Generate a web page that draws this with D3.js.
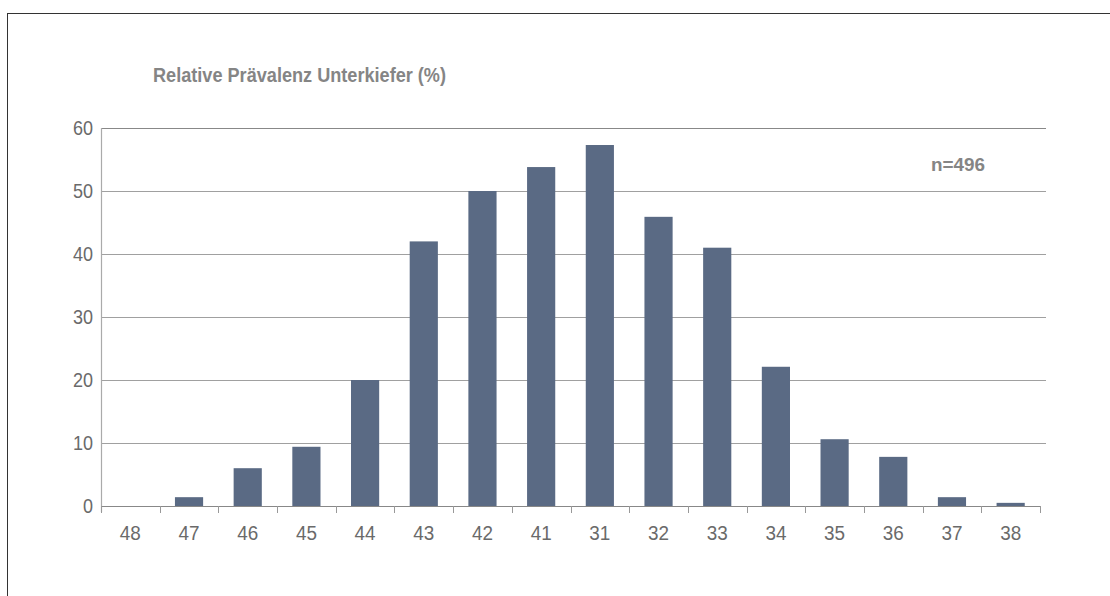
<!DOCTYPE html>
<html>
<head>
<meta charset="utf-8">
<script src="https://cdn.jsdelivr.net/npm/d3@7"></script>
<style>
  html, body { margin: 0; padding: 0; background: #fff; }
  svg { display: block; }
  text { font-family: "Liberation Sans Narrow", "Arial Narrow", "Liberation Sans", sans-serif; }
</style>
</head>
<body>
<svg id="chart" width="1110" height="596"></svg>
<script>
// Teeth (FDI notation), lower jaw, right to left
const teeth = ["48","47","46","45","44","43","42","41","31","32","33","34","35","36","37","38"];
// Relative prevalence in percent
const prevalence = [0, 1.4, 6.0, 9.4, 20, 42, 50, 53.8, 57.3, 45.9, 41, 22.1, 10.6, 7.8, 1.4, 0.5];
const yTicks = [0, 10, 20, 30, 40, 50, 60];
const title = "Relative Prävalenz Unterkiefer (%)";
const sampleLabel = "n=496";

const svg = d3.select("#chart");
const margin = { left: 101, right: 1040, top: 128, bottom: 506 };

// outer frame
svg.append("rect")
  .attr("x", 7.5).attr("y", 13.5)
  .attr("width", 1200).attr("height", 700)
  .attr("fill", "none").attr("stroke", "#333").attr("stroke-width", 1);

const x = d3.scaleBand().domain(teeth).range([margin.left, margin.right]).paddingInner(0.52).paddingOuter(0.26);
const xBounds = d3.scaleLinear().domain([0, teeth.length]).range([margin.left, margin.right]);
const y = d3.scaleLinear().domain([0, 60]).range([margin.bottom, margin.top]);

// grid lines
svg.append("g").selectAll("line").data(yTicks.filter(d => d > 0)).join("line")
  .attr("x1", margin.left).attr("x2", 1046)
  .attr("y1", d => Math.round(y(d)) + 0.5).attr("y2", d => Math.round(y(d)) + 0.5)
  .attr("stroke", d => d === 60 ? "#888" : "#a0a0a0").attr("stroke-width", 1.2);

// bars
svg.append("g").selectAll("rect").data(teeth).join("rect")
  .attr("x", d => x(d))
  .attr("width", x.bandwidth())
  .attr("y", (d, i) => y(prevalence[i]))
  .attr("height", (d, i) => y(0) - y(prevalence[i]))
  .attr("fill", "#5a6a84");

// y axis line
svg.append("line")
  .attr("x1", margin.left + 0.5).attr("x2", margin.left + 0.5)
  .attr("y1", margin.top).attr("y2", margin.bottom + 6)
  .attr("stroke", "#aaa").attr("stroke-width", 1.2);

// x axis baseline and ticks at category boundaries
svg.append("line")
  .attr("x1", margin.left).attr("x2", margin.right + 1)
  .attr("y1", y(0) + 0.5).attr("y2", y(0) + 0.5)
  .attr("stroke", "#888").attr("stroke-width", 1.2);
svg.append("g").selectAll("line").data(d3.range(teeth.length + 1)).join("line")
  .attr("x1", d => Math.round(xBounds(d)) + 0.5).attr("x2", d => Math.round(xBounds(d)) + 0.5)
  .attr("y1", y(0)).attr("y2", y(0) + 7)
  .attr("stroke", "#999").attr("stroke-width", 1);

// y tick labels (slightly condensed)
svg.append("g").selectAll("text").data(yTicks).join("text")
  .attr("transform", d => `translate(93,${y(d) + 7}) scale(0.9,1)`)
  .attr("text-anchor", "end")
  .attr("font-size", 20)
  .attr("fill", "#6a6a6a")
  .text(d => d);

// x tick labels (slightly condensed)
svg.append("g").selectAll("text").data(teeth).join("text")
  .attr("transform", d => `translate(${x(d) + x.bandwidth() / 2},540) scale(0.9,1)`)
  .attr("text-anchor", "middle")
  .attr("font-size", 21)
  .attr("fill", "#6a6a6a")
  .text(d => d);

// title
svg.append("text")
  .attr("x", 153).attr("y", 82)
  .attr("font-size", 20).attr("font-weight", "bold")
  .attr("fill", "#858585")
  .attr("textLength", 293).attr("lengthAdjust", "spacingAndGlyphs")
  .text(title);

// sample size
svg.append("text")
  .attr("x", 931).attr("y", 171)
  .attr("font-size", 18).attr("font-weight", "bold")
  .attr("fill", "#858585")
  .attr("textLength", 54).attr("lengthAdjust", "spacingAndGlyphs")
  .text(sampleLabel);
</script>
</body>
</html>
